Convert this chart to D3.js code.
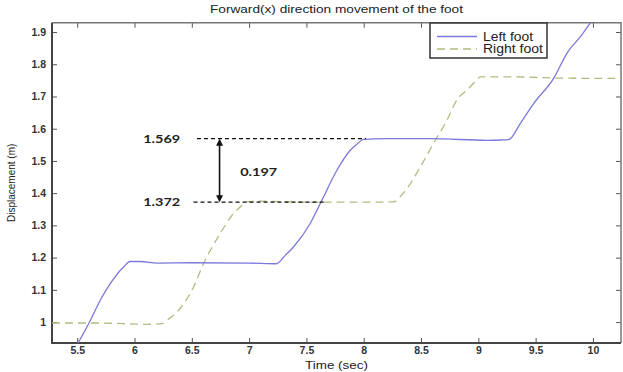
<!DOCTYPE html>
<html><head><meta charset="utf-8">
<script src="https://cdn.jsdelivr.net/npm/d3@7"></script>
<style>
html,body{margin:0;padding:0;background:#fff;}
svg{display:block;font-family:"Liberation Sans",Arial,sans-serif;}
</style></head>
<body><svg id="c" width="623" height="372"></svg>
<script>
// ---- data ----
const leftTime  = [5.45, 5.506, 5.607, 5.70, 5.788, 5.904, 5.962, 6.05, 6.2, 6.5, 7.0, 7.236, 7.315, 7.387, 7.533, 7.635, 7.766, 7.883, 7.95, 7.998, 8.2, 8.6, 9.075, 9.2, 9.264, 9.366, 9.482, 9.657, 9.773, 9.90, 9.99];
const leftDisp  = [0.91, 0.935, 1.0, 1.067, 1.119, 1.171, 1.188, 1.188, 1.183, 1.184, 1.183, 1.181, 1.207, 1.233, 1.306, 1.378, 1.471, 1.533, 1.555, 1.567, 1.569, 1.569, 1.564, 1.565, 1.566, 1.616, 1.678, 1.756, 1.834, 1.89, 1.935];
const rightTime = [5.28, 5.7, 6.1, 6.239, 6.30, 6.37, 6.515, 6.602, 6.748, 6.864, 6.93, 6.966, 7.1, 7.5, 8.0, 8.26, 8.32, 8.377, 8.493, 8.609, 8.726, 8.813, 8.901, 8.97, 9.017, 9.3, 9.7, 10.245];
const rightDisp = [0.997, 0.997, 0.993, 0.995, 1.01, 1.031, 1.109, 1.181, 1.275, 1.337, 1.36, 1.373, 1.375, 1.372, 1.372, 1.373, 1.39, 1.414, 1.481, 1.554, 1.626, 1.689, 1.72, 1.745, 1.761, 1.761, 1.757, 1.756];
const xTicks = [5.5, 6, 6.5, 7, 7.5, 8, 8.5, 9, 9.5, 10];
const yTicks = [1, 1.1, 1.2, 1.3, 1.4, 1.5, 1.6, 1.7, 1.8, 1.9];
const seriesNames = ["Left foot", "Right foot"];
const upperLevel = 1.569, lowerLevel = 1.372, levelDiff = 0.197;
const upperSpan = [6.545, 8.02], lowerSpan = [6.515, 7.65];
const arrowTime = 6.742, levelLabelTime = 6.076, diffLabelTime = 6.922, diffLabelDisp = 1.466;

// ---- layout ----
const L = 52, R = 621, T = 22.7, B = 343;
const svg = d3.select("#c");
const x = d3.scaleLinear().domain([5.28, 10.245]).range([L, R]);
const y = d3.scaleLinear().domain([0.935, 1.929]).range([B, T]);
const blue = "#7b78dc", green = "#b0bc80";

svg.append("rect").attr("width", 623).attr("height", 372).attr("fill", "#fff");
svg.append("defs").append("clipPath").attr("id", "clip")
  .append("rect").attr("x", L).attr("y", T).attr("width", R - L).attr("height", B - T);

function styleAxis(g, showLabels) {
  g.select(".domain").remove();
  g.selectAll(".tick line").attr("stroke", "#555").attr("stroke-width", 1);
  g.selectAll(".tick text").attr("fill", "#333").attr("font-size", "10.5px")
    .attr("font-weight", "bold").style("display", showLabels ? null : "none");
}
const fmt = d => String(d);
svg.append("g").attr("transform", `translate(0,${B})`)
  .call(d3.axisBottom(x).tickValues(xTicks).tickFormat(fmt).tickSizeInner(-5).tickSizeOuter(0).tickPadding(4))
  .call(g => styleAxis(g, true));
svg.append("g").attr("transform", `translate(0,${T})`)
  .call(d3.axisTop(x).tickValues(xTicks).tickSizeInner(-5).tickSizeOuter(0))
  .call(g => styleAxis(g, false));
svg.append("g").attr("transform", `translate(${L},0)`)
  .call(d3.axisLeft(y).tickValues(yTicks).tickFormat(fmt).tickSizeInner(-5).tickSizeOuter(0).tickPadding(6))
  .call(g => styleAxis(g, true));
svg.append("g").attr("transform", `translate(${R},0)`)
  .call(d3.axisRight(y).tickValues(yTicks).tickSizeInner(-5).tickSizeOuter(0))
  .call(g => styleAxis(g, false));

svg.append("path").attr("d", `M${L},${T}H${R}V${B}`).attr("fill", "none").attr("stroke", "#777").attr("stroke-width", 1.5);
svg.append("path").attr("d", `M${L},${T}V${B}H${R}`).attr("fill", "none").attr("stroke", "#444").attr("stroke-width", 2);

const line = d3.line().x(d => x(d[0])).y(d => y(d[1])).curve(d3.curveMonotoneX);
const plot = svg.append("g").attr("clip-path", "url(#clip)");
plot.append("path").datum(rightTime.map((t, i) => [t, rightDisp[i]]))
  .attr("d", line).attr("fill", "none").attr("stroke", green).attr("stroke-width", 1.3)
  .attr("stroke-dasharray", "8,5");
plot.append("path").datum(leftTime.map((t, i) => [t, leftDisp[i]]))
  .attr("d", line).attr("fill", "none").attr("stroke", blue).attr("stroke-width", 1.3);

const ann = svg.append("g");
[[upperLevel, upperSpan], [lowerLevel, lowerSpan]].forEach(([v, s]) => {
  ann.append("line").attr("x1", x(s[0])).attr("x2", x(s[1])).attr("y1", y(v)).attr("y2", y(v))
    .attr("stroke", "#111").attr("stroke-width", 1.2).attr("stroke-dasharray", "4,3");
  ann.append("text").attr("x", x(levelLabelTime)).attr("y", y(v)).attr("dy", "0.35em")
    .attr("font-family", "Lato, sans-serif").attr("font-weight", "bold").attr("font-size", "11px")
    .attr("fill", "#222").attr("textLength", 37).attr("lengthAdjust", "spacingAndGlyphs")
    .text(v.toFixed(3));
});
const ax = x(arrowTime), ay1 = y(upperLevel), ay2 = y(lowerLevel);
ann.append("line").attr("x1", ax).attr("x2", ax).attr("y1", ay1 + 5).attr("y2", ay2 - 5)
  .attr("stroke", "#111").attr("stroke-width", 1.6);
ann.append("path").attr("d", `M${ax},${ay1}l-3.5,7h7z`).attr("fill", "#111");
ann.append("path").attr("d", `M${ax},${ay2}l-3.5,-7h7z`).attr("fill", "#111");
ann.append("text").attr("x", x(diffLabelTime)).attr("y", y(diffLabelDisp)).attr("dy", "0.35em")
  .attr("font-family", "Lato, sans-serif").attr("font-weight", "bold").attr("font-size", "11px")
  .attr("fill", "#222").attr("textLength", 37).attr("lengthAdjust", "spacingAndGlyphs")
  .text(levelDiff.toFixed(3));

const lg = svg.append("g");
lg.append("rect").attr("x", 430).attr("y", 23).attr("width", 117).attr("height", 35)
  .attr("fill", "#fff").attr("stroke", "#333").attr("stroke-width", 1.5);
[[blue, null], [green, "8,5"]].forEach(([c, dash], i) => {
  const ly = 36.5 + i * 12.5;
  lg.append("line").attr("x1", 437).attr("x2", 477).attr("y1", ly).attr("y2", ly)
    .attr("stroke", c).attr("stroke-width", 1.3).attr("stroke-dasharray", dash);
  lg.append("text").attr("x", 483).attr("y", ly).attr("dy", "0.35em").attr("font-size", "12px")
    .attr("fill", "#222").attr("textLength", i === 0 ? 50 : 60).attr("lengthAdjust", "spacingAndGlyphs")
    .text(seriesNames[i]);
});

svg.append("text").attr("x", (L + R) / 2).attr("y", 13).attr("text-anchor", "middle")
  .attr("font-size", "11.5px").attr("fill", "#222").attr("textLength", 253).attr("lengthAdjust", "spacingAndGlyphs")
  .text("Forward(x) direction movement of the foot");
svg.append("text").attr("x", (L + R) / 2).attr("y", 369).attr("text-anchor", "middle")
  .attr("font-size", "11px").attr("fill", "#222").attr("textLength", 63).attr("lengthAdjust", "spacingAndGlyphs")
  .text("Time (sec)");
svg.append("text").attr("transform", `translate(15,${(T + B) / 2}) rotate(-90)`).attr("text-anchor", "middle")
  .attr("font-size", "10px").attr("fill", "#222")
  .text("Displacement (m)");
</script></body></html>
